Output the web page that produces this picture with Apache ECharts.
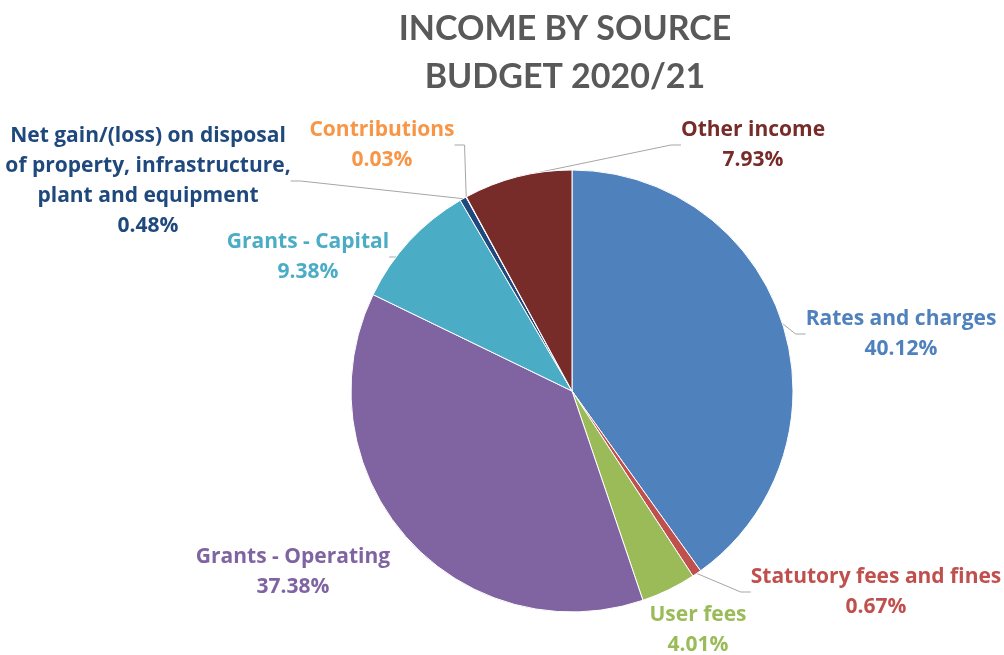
<!DOCTYPE html>
<html><head><meta charset="utf-8">
<script src="https://cdn.jsdelivr.net/npm/echarts@6/dist/echarts.min.js"></script>
<style>html,body{margin:0;padding:0;background:#fff}#c{width:1004px;height:655px}</style>
</head><body><div id="c"></div>
<script>
const categories = ["Rates and charges","Statutory fees and fines","User fees","Grants - Operating","Grants - Capital","Net gain/(loss) on disposal\nof property, infrastructure,\nplant and equipment","Contributions","Other income"];
const shares = [40.12, 0.67, 4.01, 37.38, 9.38, 0.48, 0.03, 7.93];
const colors = ["#4F81BD","#C0504D","#9BBB59","#8064A2","#4BACC6","#1F497D","#F79646","#772C2A"];
const labelColors = ["#4F81BD","#C0504D","#9BBB59","#8064A2","#4BACC6","#1F497D","#F79646","#772C2A"];
const labelPos = [[901,334],[876,592],[698,630],[293,572],[308,257],[148,181],[382,145],[753,145]];
const showLine = [true,true,false,false,true,true,true,true];

const chart = echarts.init(document.getElementById('c'), null, {renderer:'canvas'});
const labelFont = '"Open Sans", Lato, sans-serif';
const titleFont = 'Lato, "Open Sans", sans-serif';
chart.setOption({
  animation:false,
  title:{text:'INCOME BY SOURCE\nBUDGET 2020/21', left:560, top:0, textAlign:'center',
    textStyle:{fontFamily:titleFont, fontWeight:'bold', fontSize:34, lineHeight:48, color:'#595959'}},
  series:[{
    type:'pie', center:[572,391], radius:[0,221], startAngle:90, clockwise:true,
    avoidLabelOverlap:false,
    itemStyle:{borderColor:'#ffffff', borderWidth:1},
    data: categories.map((n,i)=>({name:n, value:shares[i],
      itemStyle:{color:colors[i]},
      label:{color:labelColors[i]},
      labelLine:{show:showLine[i]}})),
    label:{show:true, position:'outside', fontFamily:labelFont, fontWeight:'bold', fontSize:21, lineHeight:30,
      align:'center',
      formatter:p=>p.name+'\n'+shares[p.dataIndex].toFixed(2)+'%'},
    labelLine:{show:true, length:10, length2:10, lineStyle:{color:'#A6A6A6', width:1}},
    labelLayout:p=>({x:labelPos[p.dataIndex][0], y:labelPos[p.dataIndex][1], align:'center', verticalAlign:'middle'})
  }]
});
</script></body></html>
